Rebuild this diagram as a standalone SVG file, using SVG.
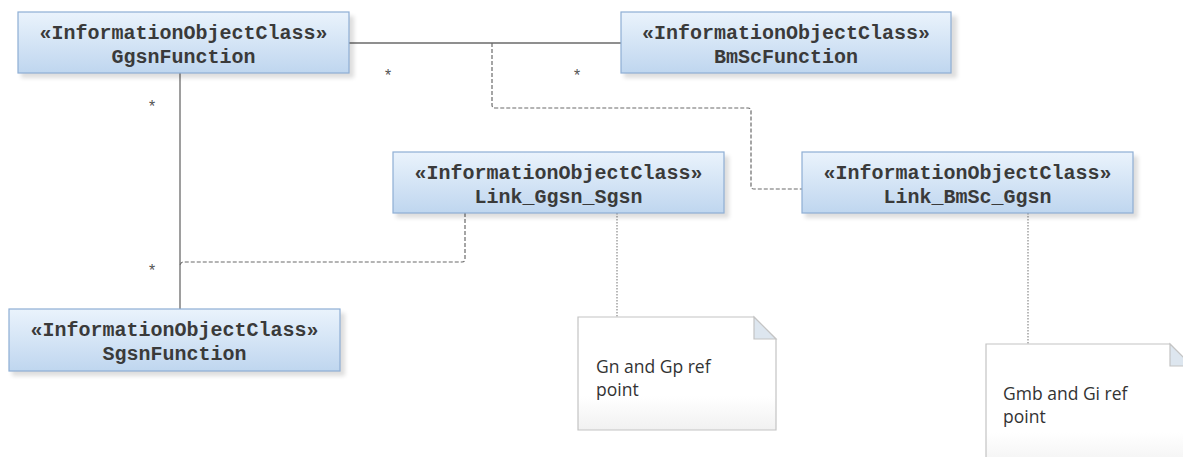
<svg xmlns="http://www.w3.org/2000/svg" width="1183" height="457" viewBox="0 0 1183 457">
<style>
.box{fill:url(#g);stroke:#8eaed4;stroke-width:1.2}
.sh{fill:#000;opacity:0.13;filter:url(#blur)}
.t{font-family:"Liberation Mono","Courier New",monospace;font-size:20px;font-weight:bold;fill:#3a3a3a;text-anchor:middle}
.assoc{fill:none;stroke:#6a6a6a;stroke-width:1.3}
.dash{fill:none;stroke:#6a6a6a;stroke-width:1.2;stroke-dasharray:4 2}
.dot{fill:none;stroke:#8a8a8a;stroke-width:1.2;stroke-dasharray:1.5 1.5}
.star{font-family:"Liberation Mono",monospace;font-size:16px;fill:#555;text-anchor:middle}
.note{fill:url(#ng);stroke:#c4c4c4;stroke-width:1.2}
.fold{fill:#dde6ef;stroke:#c4c4c4;stroke-width:1.2}
.nt{font-family:"Open Sans","Liberation Sans",sans-serif;font-size:17.5px;fill:#333}
</style>
<defs>
<linearGradient id="g" x1="0" y1="0" x2="0" y2="1">
<stop offset="0" stop-color="#eaf3fc"/>
<stop offset="1" stop-color="#bfd6ef"/>
</linearGradient>
<linearGradient id="ng" x1="0" y1="0" x2="0" y2="1">
<stop offset="0" stop-color="#ffffff"/>
<stop offset="0.7" stop-color="#ffffff"/>
<stop offset="1" stop-color="#f1f1f1"/>
</linearGradient>
<filter id="blur" x="-10%" y="-20%" width="120%" height="150%"><feGaussianBlur stdDeviation="2"/></filter>
</defs>
<rect width="1183" height="457" fill="#fff"/>
<g id="connectors">
<path class="assoc" d="M349 43 H621"/>
<path class="assoc" d="M180 73 V309"/>
<path class="dash" d="M492 43 V105 Q492 108 495 108 H748 Q751 108 751 111 V186 Q751 189 754 189 H802"/>
<path class="dash" d="M465 213 V259 Q465 262 462 262 H183 Q181 262 180 265"/>
<path class="dot" d="M617 213 V317"/>
<path class="dot" d="M1028 213 V344"/>
<text class="star" x="388" y="81">*</text>
<text class="star" x="577" y="81">*</text>
<text class="star" x="152" y="112">*</text>
<text class="star" x="152" y="276">*</text>
</g>
<g id="GgsnFunction">
<rect class="sh" x="21" y="16" width="333" height="62"/>
<rect class="box" x="18" y="12" width="331" height="61"/>
<text class="t" x="183.5" y="39">«InformationObjectClass»</text>
<text class="t" x="183.5" y="63">GgsnFunction</text>
</g>
<g id="BmScFunction">
<rect class="sh" x="624" y="16" width="333" height="62"/>
<rect class="box" x="621" y="12" width="330" height="61"/>
<text class="t" x="786" y="39">«InformationObjectClass»</text>
<text class="t" x="786" y="63">BmScFunction</text>
</g>
<g id="Link_Ggsn_Sgsn">
<rect class="sh" x="396" y="156" width="333" height="62"/>
<rect class="box" x="393" y="152" width="331" height="61"/>
<text class="t" x="558.5" y="179">«InformationObjectClass»</text>
<text class="t" x="558.5" y="203">Link_Ggsn_Sgsn</text>
</g>
<g id="Link_BmSc_Ggsn">
<rect class="sh" x="805" y="156" width="333" height="62"/>
<rect class="box" x="802" y="152" width="331" height="61"/>
<text class="t" x="967.5" y="179">«InformationObjectClass»</text>
<text class="t" x="967.5" y="203">Link_BmSc_Ggsn</text>
</g>
<g id="SgsnFunction">
<rect class="sh" x="12" y="313" width="333" height="63"/>
<rect class="box" x="9" y="309" width="331" height="62"/>
<text class="t" x="174.5" y="336">«InformationObjectClass»</text>
<text class="t" x="174.5" y="360">SgsnFunction</text>
</g>
<g id="note_Gn">
<path class="note" d="M578 317 H754 L776 339 V430 H578 Z"/>
<path class="fold" d="M754 317 V339 H776 Z"/>
<text class="nt" x="596" y="373">Gn and Gp ref</text>
<text class="nt" x="596" y="396">point</text>
</g>
<g id="note_Gmb">
<path class="note" d="M986 344 H1170 L1192 366 V470 H986 Z"/>
<path class="fold" d="M1170 344 V366 H1192 Z"/>
<text class="nt" x="1003" y="400">Gmb and Gi ref</text>
<text class="nt" x="1003" y="423">point</text>
</g>
</svg>
